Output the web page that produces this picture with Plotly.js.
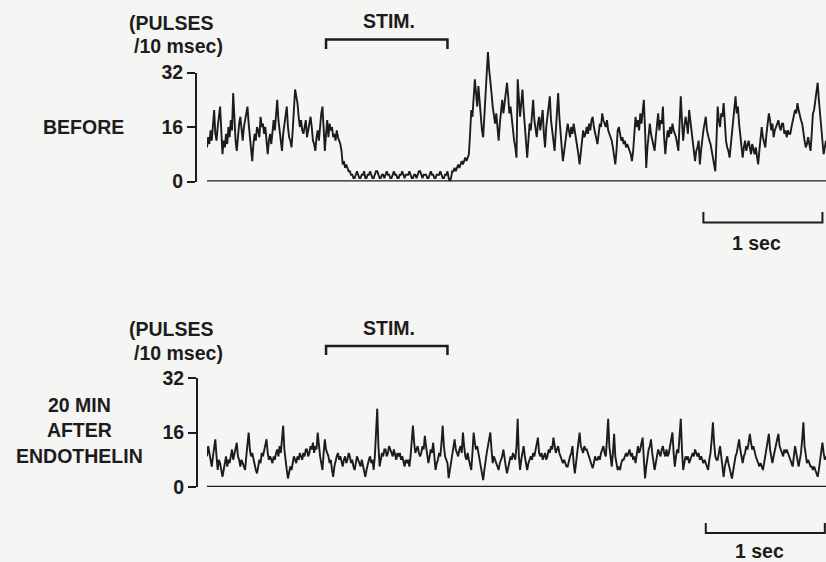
<!DOCTYPE html>
<html>
<head>
<meta charset="utf-8">
<script src="https://cdn.plot.ly/plotly-3.0.1.min.js"></script>
<style>
  html, body { margin: 0; padding: 0; background: #f5f5f3; }
  #chart { width: 826px; height: 562px; }
</style>
</head>
<body>
<div id="chart"></div>
<script>
// Spike counts per 10 ms bin, single unit recording
const binWidth = 0.01; // seconds
const beforeCounts = [
  10, 13, 11, 15, 12, 17, 21, 14, 12, 16,
  19, 22, 15, 8, 12, 10, 14, 11, 16, 13,
  18, 15, 26, 18, 12, 9, 14, 17, 19, 15,
  12, 16, 18, 20, 22, 17, 13, 10, 6, 11,
  14, 12, 16, 15, 13, 19, 16, 17, 14, 16,
  11, 8, 12, 14, 11, 16, 18, 15, 20, 24,
  18, 15, 12, 9, 14, 17, 19, 22, 16, 13,
  12, 10, 15, 21, 27, 25, 23, 19, 16, 18,
  15, 14, 16, 18, 13, 15, 17, 19, 16, 12,
  11, 9, 13, 15, 12, 17, 20, 22, 15, 9,
  14, 18, 13, 17, 15, 16, 13, 14, 12, 15,
  13, 12, 11, 9, 5, 6, 4, 5, 4, 3,
  3, 2, 2, 1, 1, 2, 3, 2, 1, 1,
  2, 2, 3, 1, 1, 2, 2, 3, 2, 1,
  1, 2, 3, 3, 2, 1, 1, 2, 2, 1,
  2, 3, 2, 2, 1, 1, 2, 3, 2, 2,
  1, 1, 2, 2, 3, 2, 1, 2, 2, 2,
  3, 2, 1, 1, 2, 2, 1, 2, 3, 3,
  2, 1, 2, 2, 2, 1, 1, 2, 3, 2,
  2, 1, 1, 2, 2, 2, 3, 2, 1, 1,
  2, 2, 3, 1, 0, 1, 3, 3, 4, 3,
  4, 5, 4, 5, 6, 5, 6, 7, 6, 7,
  8, 14, 21, 19, 24, 30, 26, 22, 28, 24,
  18, 15, 13, 19, 24, 30, 38, 33, 28, 26,
  22, 19, 17, 20, 15, 12, 17, 21, 24, 20,
  23, 27, 29, 25, 20, 22, 18, 15, 12, 10,
  7, 30, 25, 19, 23, 27, 21, 16, 12, 7,
  12, 17, 15, 19, 24, 18, 16, 13, 17, 19,
  15, 18, 21, 14, 10, 16, 19, 22, 25, 18,
  14, 12, 9, 16, 21, 26, 19, 13, 10, 6,
  9, 12, 14, 17, 15, 13, 16, 14, 17, 15,
  12, 11, 8, 5, 9, 12, 15, 13, 14, 16,
  14, 17, 15, 18, 19, 16, 14, 12, 11, 14,
  17, 16, 20, 18, 17, 16, 18, 15, 14, 13,
  12, 10, 8, 5, 9, 15, 16, 14, 12, 13,
  11, 12, 10, 11, 10, 9, 8, 6, 9, 14,
  19, 16, 18, 15, 20, 17, 21, 24, 15, 4,
  10, 14, 17, 14, 12, 11, 9, 13, 16, 20,
  15, 18, 17, 22, 13, 8, 12, 15, 13, 16,
  14, 17, 15, 14, 13, 11, 9, 17, 25, 18,
  12, 16, 19, 17, 14, 21, 18, 15, 12, 9,
  6, 9, 10, 12, 5, 9, 13, 15, 17, 19,
  15, 13, 12, 11, 9, 8, 6, 3, 12, 22,
  18, 16, 20, 19, 23, 15, 12, 10, 9, 7,
  11, 14, 18, 21, 25, 20, 22, 17, 13, 10,
  7, 10, 12, 9, 11, 12, 10, 8, 11, 9,
  8, 10, 7, 5, 9, 13, 16, 13, 11, 10,
  14, 17, 20, 18, 15, 17, 13, 15, 16, 17,
  18, 16, 15, 17, 17, 14, 15, 13, 15, 14,
  14, 16, 18, 19, 21, 20, 23, 21, 19, 18,
  17, 14, 12, 10, 11, 13, 11, 9, 14, 20,
  21, 24, 26, 29, 24, 20, 17, 13, 8, 10, 12
];
const afterCounts = [
  9, 12, 10, 8, 6, 9, 11, 14, 9, 5,
  8, 7, 5, 3, 5, 7, 9, 6, 8, 7,
  9, 11, 8, 10, 12, 13, 9, 8, 6, 8,
  7, 6, 5, 9, 12, 16, 11, 9, 10, 8,
  6, 5, 4, 6, 8, 7, 10, 9, 11, 12,
  14, 10, 8, 9, 8, 7, 9, 8, 10, 11,
  9, 12, 10, 14, 18, 11, 7, 5, 2.5, 5,
  6, 5, 7, 9, 8, 7, 9, 8, 10, 9,
  8, 10, 9, 11, 11, 9, 10, 12, 11, 13,
  10, 12, 11, 16, 12, 9, 7, 5, 10, 14,
  11, 10, 9, 7, 8, 5, 3, 6, 8, 9,
  10, 8, 9, 7, 6, 8, 9, 7, 8, 10,
  9, 7, 8, 6, 5, 7, 9, 8, 7, 6,
  8, 6, 5, 3, 5, 7, 8, 9, 7, 8,
  5, 9, 15, 23, 12, 6, 8, 10, 9, 11,
  11, 9, 10, 12, 11, 10, 9, 11, 9, 8,
  10, 9, 10, 8, 9, 7, 6, 8, 7, 8,
  6, 9, 14, 18, 13, 10, 11, 12, 10, 9,
  10, 12, 11, 15, 12, 9, 7, 9, 11, 10,
  13, 9, 5, 7, 8, 10, 9, 13, 18, 12,
  9, 8, 7, 2.6, 5, 8, 10, 12, 14, 11,
  10, 9, 11, 12, 10, 16, 12, 9, 8, 10,
  8, 6, 5, 10, 16, 13, 11, 12, 10, 8,
  6, 4, 2, 5, 8, 10, 12, 14, 16, 11,
  7, 9, 8, 7, 6, 5, 7, 8, 9, 11,
  8, 6, 4, 6, 7, 9, 8, 10, 9, 8,
  12, 20, 9, 5, 8, 10, 12, 9, 7, 5,
  7, 8, 9, 8, 10, 9, 11, 12, 14.5, 10,
  9, 10, 8, 9, 10, 8, 9, 11, 10, 12,
  11, 14.5, 12, 10, 11, 12, 10, 9, 8, 7,
  8, 7, 6, 6, 8, 9, 10, 12, 7, 4,
  7, 10, 13, 16, 12, 11, 10, 12, 11, 11,
  10, 9, 8, 7, 5.5, 7, 9, 8, 8, 9,
  8, 10, 11, 12, 10, 9, 14, 20, 12, 8,
  6, 10, 15.6, 9, 7, 5, 6, 5, 7, 8,
  8, 9, 10, 9, 10, 11, 9, 10, 8, 9,
  7, 9, 12, 10, 11, 13, 14.5, 8, 2.5, 6,
  9, 11, 12, 14, 10, 8, 5, 7, 9, 11,
  10, 9, 11, 12, 10, 9, 11, 9, 10, 12,
  14, 16, 10, 6, 9, 11, 10, 14, 20, 11,
  5, 7, 9, 8, 9, 7, 8, 9, 10, 9,
  11, 10, 9, 10, 8, 9, 8, 7, 8, 7,
  6, 5, 8, 10, 14, 19, 13, 9, 8, 8,
  10, 12, 9, 6, 3, 6, 8, 9, 7, 5,
  4, 2.5, 5, 7, 9, 10, 12, 14, 11, 9,
  7, 9, 10, 12, 11, 13, 15.6, 13, 11, 12,
  10, 9, 8, 7, 6, 7, 6, 5, 7, 9,
  11, 13, 15.6, 11, 9, 7, 9, 11, 13, 14,
  15.6, 12, 11, 10, 9, 11, 10, 11, 10, 9,
  8, 7, 6, 9, 12, 10, 8, 6, 8, 10,
  14, 19, 12, 9, 7, 8, 7, 6, 6, 5,
  6, 5, 4, 3, 5, 8, 11, 13, 10, 8, 9
];
const yTicks = [0, 16, 32];
const stimWindow = [1.0, 2.02];      // seconds
const scaleBarStart = [4.17, 4.19];  // seconds, top / bottom panel
const scaleBarLength = 1.0;          // seconds
const panelNames = ['BEFORE', '20 MIN<br>AFTER<br>ENDOTHELIN'];

const W = 826, H = 562;
const px = v => v / W;
const py = v => 1 - v / H;
const ink = '#1c1c1c';
const font = { family: 'Liberation Sans, Arial, sans-serif', size: 19.5, color: ink, weight: 'bold' };

const t = beforeCounts.map((_, i) => i * binWidth);
const tEnd = (beforeCounts.length - 1) * binWidth;

const traces = [
  { x: t, y: beforeCounts, xaxis: 'x', yaxis: 'y', mode: 'lines',
    line: { color: ink, width: 1.9 }, hoverinfo: 'skip', showlegend: false },
  { x: t, y: afterCounts, xaxis: 'x2', yaxis: 'y2', mode: 'lines',
    line: { color: ink, width: 1.9 }, hoverinfo: 'skip', showlegend: false },
  // carriers for the visible count scales
  { x: [0], y: [0], xaxis: 'x', yaxis: 'y3', mode: 'lines',
    line: { width: 0 }, hoverinfo: 'skip', showlegend: false },
  { x: [0], y: [0], xaxis: 'x2', yaxis: 'y4', mode: 'lines',
    line: { width: 0 }, hoverinfo: 'skip', showlegend: false }
];

const hidden = { visible: false, fixedrange: true };
const countAxis = (domain, pos) => ({
  domain, range: [0, 32], anchor: 'free', position: pos,
  tickvals: yTicks, ticktext: yTicks.map(String),
  ticks: 'outside', ticklen: 8, tickwidth: 2, tickcolor: ink,
  showline: true, linewidth: 2, linecolor: ink,
  showgrid: false, zeroline: false, tickfont: font, fixedrange: true
});

// pixel geometry of the two panels (zero at y0, 32 counts at y32)
const panels = [
  { y0: 181.5, y32: 72.5, top: 30, axisX: 196, stimY: 39.5, stimTick: 49,
    barY: 222.5, barTick: 212, labelY: 127, secY: 243 },
  { y0: 487, y32: 378, top: 336, axisX: 197, stimY: 346, stimTick: 355,
    barY: 533, barTick: 523, labelY: 430, secY: 551 }
];
const unit = p => (p.y0 - p.y32) / 32;

const layout = {
  width: W, height: H,
  margin: { l: 0, r: 0, t: 0, b: 0 },
  paper_bgcolor: '#f5f5f3', plot_bgcolor: 'rgba(0,0,0,0)',
  showlegend: false,
  xaxis: Object.assign({ domain: [px(207), 1], range: [0, tEnd], anchor: 'y' }, hidden),
  xaxis2: Object.assign({ domain: [px(207), 1], range: [0, tEnd], anchor: 'y2' }, hidden),
  yaxis: Object.assign({ domain: [py(panels[0].y0), py(panels[0].top)],
    range: [0, (panels[0].y0 - panels[0].top) / unit(panels[0])] }, hidden),
  yaxis2: Object.assign({ domain: [py(panels[1].y0), py(panels[1].top)],
    range: [0, (panels[1].y0 - panels[1].top) / unit(panels[1])] }, hidden),
  yaxis3: countAxis([py(panels[0].y0), py(panels[0].y32)], px(panels[0].axisX)),
  yaxis4: countAxis([py(panels[1].y0), py(panels[1].y32)], px(panels[1].axisX)),
  shapes: [],
  annotations: []
};

panels.forEach((p, k) => {
  const xr = k === 0 ? 'x' : 'x2';
  const yr = k === 0 ? 'y' : 'y2';
  // zero baseline under the trace
  layout.shapes.push({ type: 'line', xref: xr, yref: yr, x0: 0, x1: tEnd, y0: 0, y1: 0,
    line: { color: ink, width: 2.5 } });
  // stimulus bracket
  const [s0, s1] = stimWindow;
  layout.shapes.push({ type: 'path', xref: xr, yref: 'paper',
    path: `M ${s0},${py(p.stimTick)} L ${s0},${py(p.stimY)} L ${s1},${py(p.stimY)} L ${s1},${py(p.stimTick)}`,
    line: { color: ink, width: 2.5 } });
  // 1 s scale bar
  const b0 = scaleBarStart[k], b1 = b0 + scaleBarLength;
  layout.shapes.push({ type: 'path', xref: xr, yref: 'paper',
    path: `M ${b0},${py(p.barTick)} L ${b0},${py(p.barY)} L ${b1},${py(p.barY)} L ${b1},${py(p.barTick)}`,
    line: { color: ink, width: 2 } });

  layout.annotations.push(
    { xref: xr, yref: 'paper', x: (s0 + s1) / 2 + 0.02, y: py(p.stimY - 18), text: 'STIM.',
      showarrow: false, font, xanchor: 'center', yanchor: 'middle' },
    { xref: xr, yref: 'paper', x: b0 + scaleBarLength / 2 - 0.05, y: py(p.secY), text: '1 sec',
      showarrow: false, font, xanchor: 'center', yanchor: 'middle' },
    { xref: 'paper', yref: 'paper', x: px(171), y: py(p.stimY - 17), text: '(PULSES',
      showarrow: false, font, xanchor: 'center', yanchor: 'middle' },
    { xref: 'paper', yref: 'paper', x: px(178), y: py(p.stimY + 7), text: '/10 msec)',
      showarrow: false, font, xanchor: 'center', yanchor: 'middle' },
    { xref: 'paper', yref: 'paper', x: px(k === 0 ? 83 : 79), y: py(p.labelY), text: panelNames[k],
      showarrow: false, font, xanchor: 'center', yanchor: 'middle', align: 'center' }
  );
});

Plotly.newPlot('chart', traces, layout, { staticPlot: true, displayModeBar: false });
</script>
</body>
</html>
